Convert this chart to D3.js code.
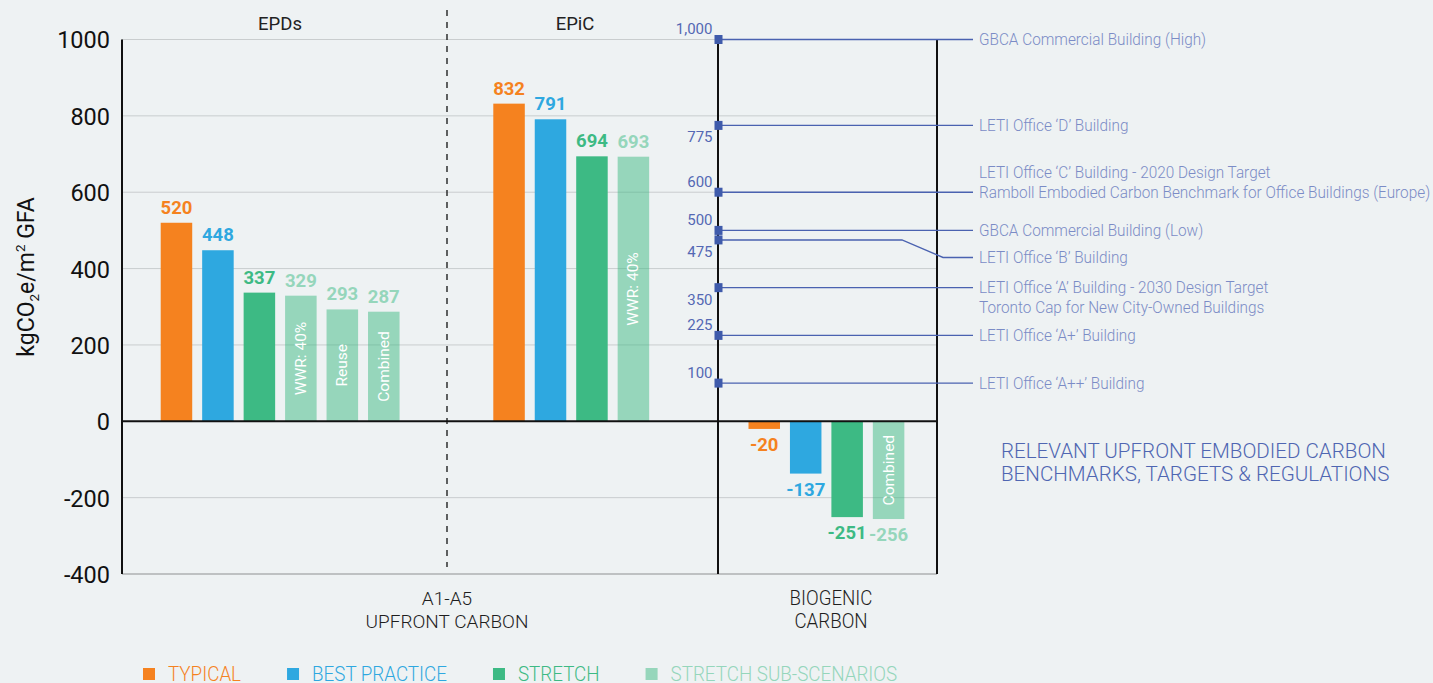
<!DOCTYPE html>
<html>
<head>
<meta charset="utf-8">
<script src="https://cdn.jsdelivr.net/npm/d3@7"></script>
<style>
  html, body { margin: 0; padding: 0; background: #eef2f3; }
  svg { display: block; }
  text { font-family: Roboto, "Noto Sans", sans-serif; }
</style>
</head>
<body>
<svg id="chart" width="1433" height="683"></svg>
<script>
// ---- data ----
const epdCategories  = ["Typical", "Best Practice", "Stretch", "WWR: 40%", "Reuse", "Combined"];
const epdValues      = [520, 448, 337, 329, 293, 287];

const epicCategories = ["Typical", "Best Practice", "Stretch", "WWR: 40%"];
const epicValues     = [832, 791, 694, 693];

const bioCategories  = ["Typical", "Best Practice", "Stretch", "Combined"];
const bioValues      = [-20, -137, -251, -256];

const yTickValues    = [-400, -200, 0, 200, 400, 600, 800, 1000];

const benchmarkValues = [1000, 775, 600, 500, 475, 350, 225, 100];
const benchmarkLabels = [
  ["GBCA Commercial Building (High)"],
  ["LETI Office \u2018D\u2019 Building"],
  ["LETI Office \u2018C\u2019 Building - 2020 Design Target",
   "Ramboll Embodied Carbon Benchmark for Office Buildings (Europe)"],
  ["GBCA Commercial Building (Low)"],
  ["LETI Office \u2018B\u2019 Building"],
  ["LETI Office \u2018A\u2019 Building - 2030 Design Target",
   "Toronto Cap for New City-Owned Buildings"],
  ["LETI Office \u2018A+\u2019 Building"],
  ["LETI Office \u2018A++\u2019 Building"]
];

const legendLabels = ["TYPICAL", "BEST PRACTICE", "STRETCH", "STRETCH SUB-SCENARIOS"];
const legendKeys   = ["typical", "best", "stretch", "sub"];

// ---- styling ----
const colors = {
  typical: "#f5821f",
  best:    "#2ea8e0",
  stretch: "#3dba84",
  sub:     "#3dba84"
};
const labelColors = {
  typical: "#f5821f",
  best:    "#2ea8e0",
  stretch: "#3dba84",
  sub:     "#95d6bb"
};
const kindOf = c => c === "Typical" ? "typical"
                  : c === "Best Practice" ? "best"
                  : c === "Stretch" ? "stretch" : "sub";

const benchBlue   = "#4a62b0";
const benchText   = "#7b8cc6";
const gridColor   = "#c9cdce";

const svg = d3.select("#chart");

// ---- scales ----
const y = d3.scaleLinear().domain([-400, 1000]).range([574, 39.5]);
const axisX = 122, bioLeft = 718, bioRight = 937, dividerX = 447;

const xEpd  = d3.scaleBand().domain(epdCategories).range([150.75, 409.5]).paddingInner(0.24).paddingOuter(0.24);
const xEpic = d3.scaleBand().domain(epicCategories).range([483.35, 659.1]).paddingInner(0.24).paddingOuter(0.24);
const xBio  = d3.scaleBand().domain(bioCategories).range([738.55, 914.3]).paddingInner(0.24).paddingOuter(0.24);

// ---- gridlines ----
svg.append("g").selectAll("line")
  .data(yTickValues.filter(v => v !== 0 && v !== -400))
  .join("line")
  .attr("x1", axisX).attr("x2", bioRight)
  .attr("y1", d => y(d)).attr("y2", d => y(d))
  .attr("stroke", gridColor).attr("stroke-width", 1);

// bottom baseline
svg.append("line")
  .attr("x1", axisX).attr("x2", bioRight)
  .attr("y1", y(-400)).attr("y2", y(-400))
  .attr("stroke", "#aeb1b2").attr("stroke-width", 1.5);

// ---- y axis ----
const yAxis = d3.axisLeft(y).tickValues(yTickValues).tickSize(0).tickPadding(12)
  .tickFormat(d => String(d));
const gy = svg.append("g").attr("transform", `translate(${axisX},0)`).call(yAxis);
gy.select(".domain").remove();
gy.selectAll("text")
  .attr("font-family", "Roboto").attr("font-size", 23.5).attr("fill", "#111")
  .attr("dy", "0.36em");

// y axis title
const yTitle = svg.append("text")
  .attr("transform", "translate(34,277) rotate(-90)")
  .attr("text-anchor", "middle")
  .attr("font-size", 23).attr("fill", "#111");
yTitle.append("tspan").text("kgCO");
yTitle.append("tspan").text("2").attr("font-size", 13.5).attr("dy", 5);
yTitle.append("tspan").text("e/m").attr("dy", -5);
yTitle.append("tspan").text("2").attr("font-size", 13.5).attr("dy", -9);
yTitle.append("tspan").text(" GFA").attr("dy", 9);

// ---- bars ----
function drawGroup(cats, vals, x) {
  const rows = cats.map((c, i) => ({ c, v: vals[i], k: kindOf(c) }));
  const g = svg.append("g");
  g.selectAll("rect").data(rows).join("rect")
    .attr("x", d => x(d.c))
    .attr("width", x.bandwidth())
    .attr("y", d => y(Math.max(0, d.v)))
    .attr("height", d => Math.abs(y(d.v) - y(0)))
    .attr("fill", d => colors[d.k])
    .attr("fill-opacity", d => d.k === "sub" ? 0.5 : 1);

  // value labels
  g.selectAll("text.val").data(rows).join("text")
    .attr("class", "val")
    .attr("x", d => x(d.c) + x.bandwidth() / 2)
    .attr("y", d => d.v >= 0 ? y(d.v) - 9 : y(d.v) + 22)
    .attr("text-anchor", "middle")
    .attr("font-size", 18.5).attr("font-weight", 700)
    .attr("fill", d => labelColors[d.k])
    .text(d => d.v);

  // rotated scenario names inside sub-scenario bars
  g.selectAll("text.name").data(rows.filter(d => d.k === "sub")).join("text")
    .attr("class", "name")
    .attr("transform", d => `translate(${x(d.c) + x.bandwidth() / 2},${(y(d.v) + y(0)) / 2}) rotate(-90)`)
    .attr("text-anchor", "middle")
    .attr("dominant-baseline", "central")
    .attr("font-family", "'Open Sans', sans-serif")
    .attr("font-size", 15.5)
    .attr("fill", "#ffffff")
    .text(d => d.c);
}
drawGroup(epdCategories, epdValues, xEpd);
drawGroup(epicCategories, epicValues, xEpic);
drawGroup(bioCategories, bioValues, xBio);

// ---- axis lines and panel frame ----
svg.append("line")
  .attr("x1", axisX).attr("x2", bioRight)
  .attr("y1", y(0)).attr("y2", y(0))
  .attr("stroke", "#111").attr("stroke-width", 2);
svg.append("line")
  .attr("x1", axisX).attr("x2", axisX)
  .attr("y1", y(1000)).attr("y2", y(-400))
  .attr("stroke", "#111").attr("stroke-width", 2);
[bioLeft, bioRight].forEach(xx => {
  svg.append("line")
    .attr("x1", xx).attr("x2", xx)
    .attr("y1", y(1000)).attr("y2", y(-400))
    .attr("stroke", "#111").attr("stroke-width", 2);
});
svg.append("line")
  .attr("x1", dividerX).attr("x2", dividerX)
  .attr("y1", 10).attr("y2", 567)
  .attr("stroke", "#111").attr("stroke-width", 1.3)
  .attr("stroke-dasharray", "6,6");

// ---- section titles ----
svg.append("text").attr("x", 280).attr("y", 30).attr("text-anchor", "middle")
  .attr("font-size", 18.5).attr("fill", "#222").text("EPDs");
svg.append("text").attr("x", 575).attr("y", 30).attr("text-anchor", "middle")
  .attr("font-size", 18.5).attr("fill", "#222").text("EPiC");

function multiLine(x, y0, lines, opts) {
  const t = svg.append("text").attr("text-anchor", "middle")
    .attr("font-size", opts.size).attr("font-weight", opts.weight || 400)
    .attr("fill", opts.fill);
  lines.forEach((l, i) => t.append("tspan").attr("x", x).attr("y", y0 + i * opts.lh).text(l));
  return t;
}
multiLine(dividerX, 605, ["A1-A5", "UPFRONT CARBON"], { size: 19, weight: 300, fill: "#1e1e1e", lh: 23 });
const bioTitle = multiLine(0, 0, ["BIOGENIC", "CARBON"], { size: 19.5, weight: 300, fill: "#1e1e1e", lh: 23 });
bioTitle.attr("transform", "translate(831,605) scale(0.96,1)");

// ---- benchmarks ----
const labelSide   = ["above", "below", "above", "above", "below", "below", "above", "above"];
const onLineIndex = [0, 0, 1, 0, 0, 0, 0, 0];
const leaderEnd = 973, textX = 979, condense = 0.93;

const bench = svg.append("g");
benchmarkValues.forEach((v, i) => {
  const yy = y(v);
  const dropped = v === 475;         // leader bends down to clear the label above
  const yEnd = dropped ? yy + 17.5 : yy;
  const pts = dropped
    ? [[bioLeft, yy], [902, yy], [943, yEnd], [leaderEnd, yEnd]]
    : [[bioLeft, yy], [leaderEnd, yy]];
  bench.append("path")
    .attr("d", d3.line()(pts))
    .attr("fill", "none")
    .attr("stroke", benchBlue).attr("stroke-width", 1.4);
  bench.append("rect")
    .attr("x", bioLeft - 3.5).attr("y", yy - 4.5)
    .attr("width", 8).attr("height", 9)
    .attr("fill", "#3f5bab");
  bench.append("text")
    .attr("x", 712.5)
    .attr("y", labelSide[i] === "above" ? yy - 5.5 : yy + 17)
    .attr("text-anchor", "end")
    .attr("font-size", 15).attr("fill", "#5468b4")
    .text(d3.format(",")(v));

  const lines = benchmarkLabels[i];
  lines.forEach((l, j) => {
    const ty = yEnd + (j - onLineIndex[i]) * 20;
    bench.append("text")
      .attr("transform", `translate(${textX},${ty}) scale(${condense},1)`)
      .attr("dominant-baseline", "central")
      .attr("font-size", 16.5).attr("font-weight", 300)
      .attr("fill", benchText)
      .text(l);
  });
});

// panel caption
const cap = svg.append("text")
  .attr("transform", "translate(1001,0) scale(0.98,1)")
  .attr("font-size", 21).attr("font-weight", 300).attr("fill", "#4f66b2");
cap.append("tspan").attr("x", 0).attr("y", 458).text("RELEVANT UPFRONT EMBODIED CARBON");
cap.append("tspan").attr("x", 0).attr("y", 481).text("BENCHMARKS, TARGETS & REGULATIONS");

// ---- legend ----
const legend = svg.append("g");
const legendScale = 0.94;
let lx = 143;
legendLabels.forEach((lab, i) => {
  const k = legendKeys[i];
  legend.append("rect")
    .attr("x", lx).attr("y", 668).attr("width", 12).attr("height", 12)
    .attr("fill", colors[k]).attr("fill-opacity", k === "sub" ? 0.5 : 1);
  const t = legend.append("text")
    .attr("transform", `translate(${lx + 25},681) scale(${legendScale},1)`)
    .attr("font-size", 20).attr("font-weight", 300)
    .attr("fill", labelColors[k])
    .text(lab);
  lx += 25 + t.node().getComputedTextLength() * legendScale + 46;
});
</script>
</body>
</html>
